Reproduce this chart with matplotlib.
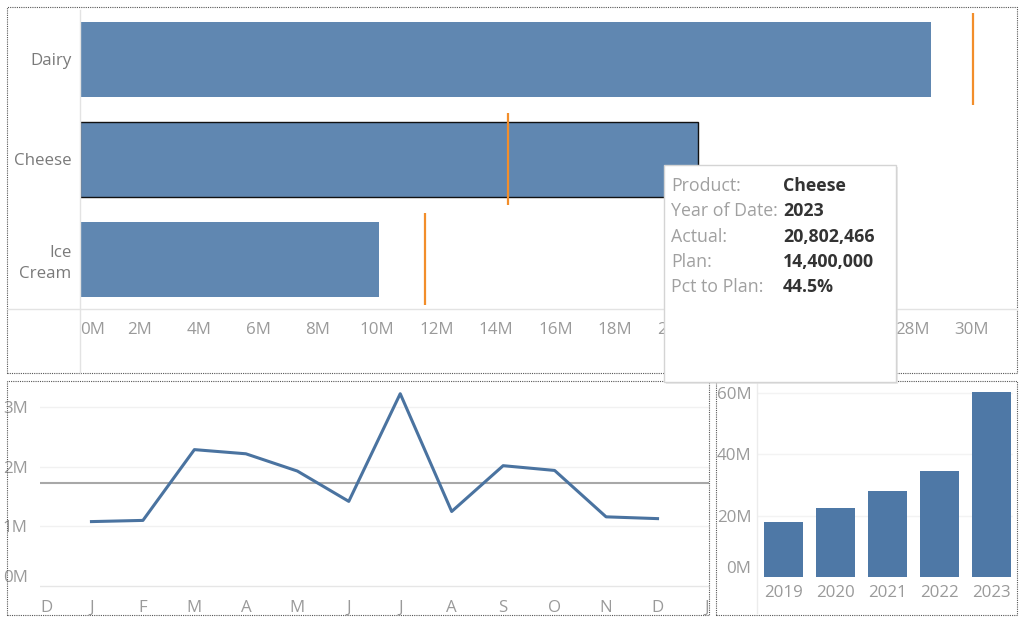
#dashboard style recreation: product actual vs plan, monthly trend, yearly totals
import numpy as np
import matplotlib.pyplot as plt
from matplotlib.patches import Rectangle
from matplotlib.lines import Line2D

plt.rcParams['font.family'] = ['Open Sans', 'DejaVu Sans']

# Product actual vs plan (millions)
products = ['Dairy', 'Cheese', 'Ice\nCream']
actual = [28.65, 20.802466, 10.07]
plan = [30.07, 14.4, 11.6]
x_ticks_top = np.arange(0, 31, 2)

# Monthly values for the selected product (millions)
month_labels = ['D', 'J', 'F', 'M', 'A', 'M', 'J', 'J', 'A', 'S', 'O', 'N', 'D', 'J']
monthly = [1.08, 1.10, 2.29, 2.22, 1.93, 1.42, 3.23, 1.25, 2.02, 1.94, 1.16, 1.13]

# Yearly totals (millions)
years = ['2019', '2020', '2021', '2022', '2023']
yearly = [18.0, 22.4, 28.0, 34.6, 60.3]

# Tooltip content
tip_labels = ['Product:', 'Year of Date:', 'Actual:', 'Plan:', 'Pct to Plan:']
tip_values = ['Cheese', '2023', '20,802,466', '14,400,000', '44.5%']

W, H = 1024, 619
fig = plt.figure(figsize=(W / 100, H / 100), dpi=100)

TICK_COLOR = '#9a9a9a'
LABEL_COLOR = '#7a7a7a'
BAR_TOP = '#6087b1'
BAR_BOT = '#4e78a6'
ORANGE = '#f28e2b'
FS = 12.2
TIP_FS = 12.8


def px_axes(x0, y0, x1, y1):
    return fig.add_axes([x0 / W, 1 - y1 / H, (x1 - x0) / W, (y1 - y0) / H])


def fig_line(xs, ys, color='#e3e3e3', lw=1.0):
    fig.add_artist(Line2D([x / W for x in xs], [1 - y / H for y in ys],
                          color=color, lw=lw, transform=fig.transFigure))


def panel_border(x0, y0, x1, y1):
    fig.add_artist(Rectangle((x0 / W, 1 - y1 / H), (x1 - x0) / W, (y1 - y0) / H,
                             transform=fig.transFigure, fill=False, ec='#555555',
                             lw=0.8, ls=(0, (1, 1))))


def clean(ax):
    for s in ax.spines.values():
        s.set_visible(False)
    ax.tick_params(length=0, colors=TICK_COLOR, labelsize=FS)


# ---- top panel: actual vs plan bars ----
ax1 = px_axes(80, 9, 1013, 309)
ypos = np.arange(len(products))
bars = ax1.barh(ypos, actual, height=0.75, color=BAR_TOP, zorder=2)
bars[1].set_edgecolor('#111111')
bars[1].set_linewidth(1.0)
ax1.vlines(plan, ypos - 0.46, ypos + 0.46, color=ORANGE, lw=1.6, zorder=3)
ax1.set_xlim(0, 31.4)
ax1.set_ylim(2.5, -0.5)
ax1.set_yticks(ypos)
ax1.set_yticklabels(products, color=LABEL_COLOR, fontsize=FS, linespacing=1.4,
                    multialignment='right')
ax1.set_xticks(x_ticks_top)
ax1.set_xticklabels([f'{v}M' for v in x_ticks_top])
clean(ax1)
ax1.tick_params(axis='x', pad=9)
ax1.tick_params(axis='y', pad=6, labelcolor=LABEL_COLOR)
ax1.get_xticklabels()[0].set_ha('left')
fig_line([80, 80], [10, 373])
fig_line([7, 1017], [309, 309])
panel_border(7, 7, 1017, 373)

# ---- bottom left: monthly line ----
ax2 = px_axes(40, 383, 709, 590)
mx = np.arange(1, len(monthly) + 1)
ax2.axhline(np.mean(monthly), color='#a8a8a8', lw=1.5, zorder=2)
ax2.plot(mx, monthly, color='#4a73a0', lw=2.2, zorder=3)
ax2.set_xlim(0, 13)
ax2.set_ylim(-0.07, 3.41)
ax2.set_xticks(np.arange(len(month_labels)))
ax2.set_xticklabels(month_labels)
ax2.set_yticks([0, 1, 2, 3])
ax2.set_yticklabels(['0M', '1M', '2M', '3M'])
for v in [1, 2, 3]:
    ax2.axhline(v, color='#f1f1f1', lw=1, zorder=1)
ax2.axhline(0, color='#e6e6e6', lw=1, zorder=1)
clean(ax2)
ax2.tick_params(axis='x', pad=7)
ax2.tick_params(axis='y', pad=9)
ax2.get_xticklabels()[0].set_ha('left')
ax2.get_xticklabels()[-1].set_ha('right')
ax2.get_yticklabels()[0].set_va('bottom')
panel_border(7, 381, 709, 615)

# ---- bottom right: yearly bars ----
ax3 = px_axes(757, 383, 1013, 577)
bx = np.arange(len(years))
ax3.bar(bx, yearly, width=0.75, color=BAR_BOT, zorder=2)
for v in [20, 40, 60]:
    ax3.axhline(v, color='#f3f3f3', lw=1, zorder=1)
ax3.set_xlim(-0.51, 4.41)
ax3.set_ylim(0, 63.1)
ax3.set_xticks(bx)
ax3.set_xticklabels(years)
ax3.set_yticks([0, 20, 40, 60])
ax3.set_yticklabels(['0M', '20M', '40M', '60M'])
clean(ax3)
ax3.tick_params(axis='x', pad=6)
ax3.tick_params(axis='y', pad=4)
ax3.get_yticklabels()[0].set_va('bottom')
fig_line([757, 757], [383, 613], color='#ececec')
panel_border(716, 381, 1017, 615)

# ---- tooltip ----
fig.add_artist(Rectangle((666 / W, 1 - 384 / H), 232 / W, 217 / H,
                         transform=fig.transFigure, fc='#dddddd', ec='none',
                         alpha=0.6, zorder=9))
fig.add_artist(Rectangle((664 / W, 1 - 382 / H), 232 / W, 217 / H,
                         transform=fig.transFigure, fc='white', ec='#d4d4d4',
                         lw=1, zorder=10))
row_y = [186, 211, 237, 262, 287]
for lab, val, y in zip(tip_labels, tip_values, row_y):
    fig.text(671 / W, 1 - y / H, lab, color='#a0a0a0', fontsize=TIP_FS,
             va='center', ha='left', zorder=11)
    fig.text(783 / W, 1 - y / H, val, color='#333333', fontsize=TIP_FS,
             fontweight='bold', va='center', ha='left', zorder=11)

fig.savefig('out.png', dpi=100)
